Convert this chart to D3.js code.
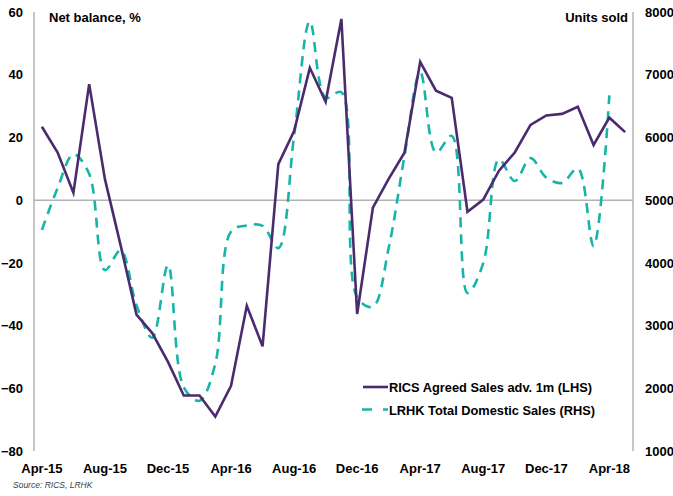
<!DOCTYPE html>
<html>
<head>
<meta charset="utf-8">
<script src="https://cdn.jsdelivr.net/npm/d3@7/dist/d3.min.js"></script>
<style>
  body { margin: 0; background: #fff; }
  svg { display: block; font-family: "Liberation Sans", Arial, sans-serif; }
</style>
</head>
<body>
<svg id="chart" width="673" height="496"></svg>
<script>
// ---- data ----
const months = ["Apr-15","May-15","Jun-15","Jul-15","Aug-15","Sep-15","Oct-15","Nov-15","Dec-15",
  "Jan-16","Feb-16","Mar-16","Apr-16","May-16","Jun-16","Jul-16","Aug-16","Sep-16","Oct-16","Nov-16","Dec-16",
  "Jan-17","Feb-17","Mar-17","Apr-17","May-17","Jun-17","Jul-17","Aug-17","Sep-17","Oct-17","Nov-17","Dec-17",
  "Jan-18","Feb-18","Mar-18","Apr-18","May-18"];
const ricsValues = [23.4, 15.2, 2.4, 37.0, 6.7, -14.5, -36.5, -42.4, -51.6,
  -62.3, -62.3, -69.0, -59.2, -33.7, -46.6, 11.5, 22.0, 42.2, 31.4, 57.8, -36.3,
  -2.4, 6.8, 15.1, 44.1, 34.9, 32.6, -3.7, 0.2, 9.4, 15.2, 24.0, 27.0,
  27.5, 29.8, 17.6, 26.3, 21.7];
const lrhkValues = [4525, 5195, 5730, 5420, 3885, 4200, 3325, 2805, 3965,
  2015, 1800, 2390, 4500, 4595, 4590, 4235, 6025, 7850, 6635, 6720, 3450,
  3300, 4235, 5700, 7040, 5760, 6025, 3520, 3995, 5650, 5305, 5670, 5360,
  5275, 5505, 4265, 6670];
const leftTicks = [-80, -60, -40, -20, 0, 20, 40, 60];
const rightTicks = [1000, 2000, 3000, 4000, 5000, 6000, 7000, 8000];
const xTickLabels = ["Apr-15","Aug-15","Dec-15","Apr-16","Aug-16","Dec-16","Apr-17","Aug-17","Dec-17","Apr-18"];
const seriesNames = ["RICS Agreed Sales adv. 1m (LHS)", "LRHK Total Domestic Sales (RHS)"];

// ---- layout ----
const plotL = 34, plotR = 633, plotT = 12, plotB = 451;
const purple = "#4a2c6e", teal = "#17b5a8", gridGray = "#b3b3b3";

const svg = d3.select("#chart");

const x = d3.scaleBand().domain(months).range([plotL, plotR]).paddingInner(0).paddingOuter(0);
const xc = d => x(d) + x.bandwidth() / 2;
const yL = d3.scaleLinear().domain([-80, 60]).range([plotB, plotT]);
const yR = d3.scaleLinear().domain([1000, 8000]).range([plotB, plotT]);

// axis lines
svg.append("line").attr("x1", plotL).attr("x2", plotL).attr("y1", plotT).attr("y2", plotB)
  .attr("stroke", gridGray).attr("stroke-width", 1.5);
svg.append("line").attr("x1", plotR).attr("x2", plotR).attr("y1", plotT).attr("y2", plotB)
  .attr("stroke", gridGray).attr("stroke-width", 1.5);
svg.append("line").attr("x1", plotL).attr("x2", plotR).attr("y1", yL(0)).attr("y2", yL(0))
  .attr("stroke", gridGray).attr("stroke-width", 1.5);

// left axis labels
const gL = svg.append("g").attr("transform", `translate(${plotL},0)`)
  .call(d3.axisLeft(yL).tickValues(leftTicks).tickSize(0).tickPadding(11));
gL.select(".domain").remove();
gL.selectAll("text").attr("font-size", 13).attr("font-weight", "bold")
  .attr("font-family", "Liberation Sans, Arial, sans-serif").attr("fill", "#000");

// right axis labels
const gR = svg.append("g").attr("transform", `translate(${plotR},0)`)
  .call(d3.axisRight(yR).tickValues(rightTicks).tickSize(0).tickPadding(12).tickFormat(d3.format("d")));
gR.select(".domain").remove();
gR.selectAll("text").attr("font-size", 13).attr("font-weight", "bold")
  .attr("font-family", "Liberation Sans, Arial, sans-serif").attr("fill", "#000");

// bottom axis labels
const gB = svg.append("g").attr("transform", `translate(0,${plotB})`)
  .call(d3.axisBottom(x).tickValues(xTickLabels).tickSize(0).tickPadding(13));
gB.select(".domain").remove();
gB.selectAll("text").attr("font-size", 13).attr("font-weight", "bold")
  .attr("font-family", "Liberation Sans, Arial, sans-serif").attr("fill", "#000");

// axis titles
svg.append("text").attr("x", 49).attr("y", 22).text("Net balance, %")
  .attr("font-size", 13).attr("font-weight", "bold").attr("fill", "#000");
svg.append("text").attr("x", 628).attr("y", 22).attr("text-anchor", "end").text("Units sold")
  .attr("font-size", 13).attr("font-weight", "bold").attr("fill", "#000");

// series lines
const lrhkLine = d3.line().x((d, i) => xc(months[i])).y(d => yR(d)).curve(d3.curveCatmullRom.alpha(0.5));
svg.append("path").datum(lrhkValues).attr("d", lrhkLine)
  .attr("fill", "none").attr("stroke", teal).attr("stroke-width", 2.6)
  .attr("stroke-dasharray", "10,7");

const ricsLine = d3.line().x((d, i) => xc(months[i])).y(d => yL(d));
svg.append("path").datum(ricsValues).attr("d", ricsLine)
  .attr("fill", "none").attr("stroke", purple).attr("stroke-width", 2.6)
  .attr("stroke-linejoin", "miter");

// legend
const leg = svg.append("g");
leg.append("line").attr("x1", 363).attr("x2", 388).attr("y1", 387).attr("y2", 387)
  .attr("stroke", purple).attr("stroke-width", 2.6);
leg.append("text").attr("x", 389).attr("y", 391.8).text(seriesNames[0])
  .attr("font-size", 13.5).attr("font-weight", "bold").attr("fill", "#000")
  .attr("textLength", 203).attr("lengthAdjust", "spacingAndGlyphs");
leg.append("line").attr("x1", 362).attr("x2", 388).attr("y1", 409.5).attr("y2", 409.5)
  .attr("stroke", teal).attr("stroke-width", 2.6).attr("stroke-dasharray", "10,11");
leg.append("text").attr("x", 389).attr("y", 414.5).text(seriesNames[1])
  .attr("font-size", 13.5).attr("font-weight", "bold").attr("fill", "#000")
  .attr("textLength", 206).attr("lengthAdjust", "spacingAndGlyphs");

// source
svg.append("text").attr("x", 13).attr("y", 488).text("Source: RICS, LRHK")
  .attr("font-size", 8.5).attr("font-style", "italic").attr("fill", "#404040");
</script>
</body>
</html>
